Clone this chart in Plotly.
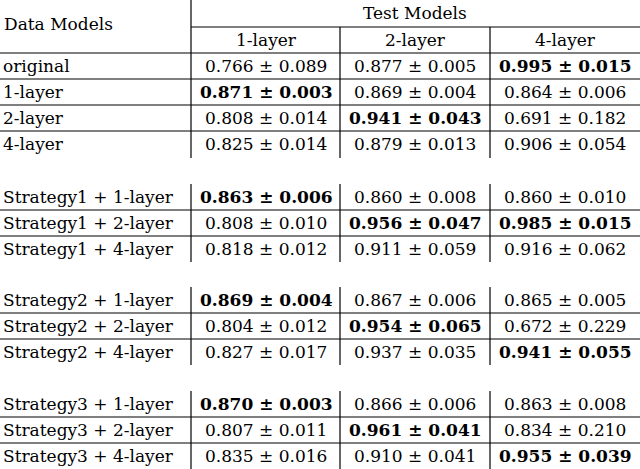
import plotly.graph_objects as go

row_labels = ["original", "1-layer", "2-layer", "4-layer",
              "Strategy1 + 1-layer", "Strategy1 + 2-layer", "Strategy1 + 4-layer",
              "Strategy2 + 1-layer", "Strategy2 + 2-layer", "Strategy2 + 4-layer",
              "Strategy3 + 1-layer", "Strategy3 + 2-layer", "Strategy3 + 4-layer"]
col_labels = ["1-layer", "2-layer", "4-layer"]
means = [[0.766, 0.877, 0.995], [0.871, 0.869, 0.864], [0.808, 0.941, 0.691], [0.825, 0.879, 0.906],
         [0.863, 0.860, 0.860], [0.808, 0.956, 0.985], [0.818, 0.911, 0.916],
         [0.869, 0.867, 0.865], [0.804, 0.954, 0.672], [0.827, 0.937, 0.941],
         [0.870, 0.866, 0.863], [0.807, 0.961, 0.834], [0.835, 0.910, 0.955]]
stds = [[0.089, 0.005, 0.015], [0.003, 0.004, 0.006], [0.014, 0.043, 0.182], [0.014, 0.013, 0.054],
        [0.006, 0.008, 0.010], [0.010, 0.047, 0.015], [0.012, 0.059, 0.062],
        [0.004, 0.006, 0.005], [0.012, 0.065, 0.229], [0.017, 0.035, 0.055],
        [0.003, 0.006, 0.008], [0.011, 0.041, 0.210], [0.016, 0.041, 0.039]]
bold = [[2], [0], [1], [], [0], [1, 2], [], [0], [1], [2], [0], [1], [2]]

FONT = dict(family="DejaVu Serif, Liberation Serif, serif", size=17, color="black")
row_y = [66, 92, 118, 144, 197, 223, 249, 300, 326, 352, 404, 430, 456]
col_x = [266, 415, 565]
vlines_x = [191, 340, 490]

fig = go.Figure()
ann = []
shapes = []

def line(x0, y0, x1, y1):
    shapes.append(dict(type="line", x0=x0, y0=y0, x1=x1, y1=y1, xref="x", yref="y",
                       line=dict(color="black", width=1.2)))

ann.append(dict(x=2, y=24, text="Data Models", xanchor="left"))
ann.append(dict(x=415, y=13, text="Test Models", xanchor="center"))
for c, lab in zip(col_x, col_labels):
    ann.append(dict(x=c, y=40, text=lab, xanchor="center"))
for i, lab in enumerate(row_labels):
    ann.append(dict(x=1, y=row_y[i], text=lab, xanchor="left"))
    for j in range(3):
        t = f"{means[i][j]:.3f} ± {stds[i][j]:.3f}"
        if j in bold[i]:
            t = f"<b>{t}</b>"
        ann.append(dict(x=col_x[j], y=row_y[i], text=t, xanchor="center"))
for a in ann:
    a.update(xref="x", yref="y", yanchor="middle", showarrow=False, font=FONT)

line(191, 0, 191, 158)
line(191, 27, 640, 27)
line(340, 27, 340, 158)
line(490, 27, 490, 158)
for y in [53, 79, 105, 131]:
    line(0, y, 640, y)
for top in [184, 287, 391]:
    for x in vlines_x:
        line(x, top, x, top + 78)
    line(0, top + 26, 640, top + 26)
    line(0, top + 52, 640, top + 52)

fig.update_layout(width=640, height=469, margin=dict(l=0, r=0, t=0, b=0),
                  paper_bgcolor="white", plot_bgcolor="white",
                  xaxis=dict(range=[0, 640], visible=False, fixedrange=True),
                  yaxis=dict(range=[469, 0], visible=False, fixedrange=True),
                  annotations=ann, shapes=shapes, showlegend=False)
fig.write_html("out.html", config={"displayModeBar": False},
               post_script="document.body.style.margin='0';document.body.style.overflow='hidden';")
